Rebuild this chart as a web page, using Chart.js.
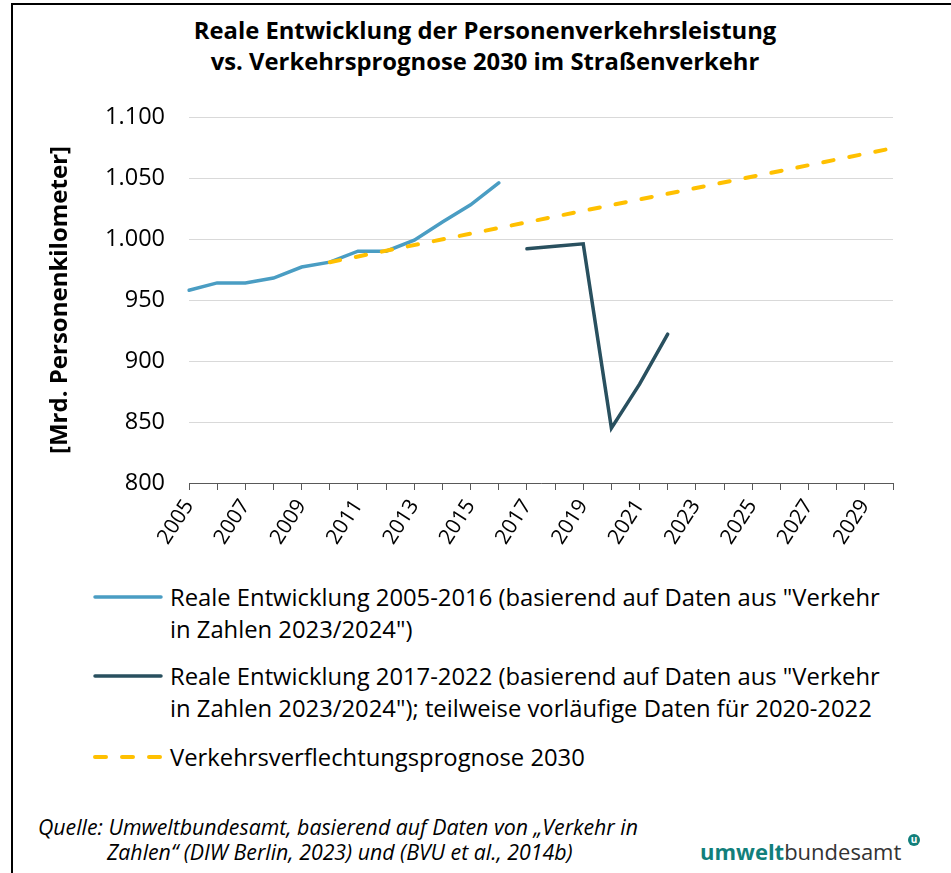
<!DOCTYPE html>
<html><head><meta charset="utf-8">
<script src="https://cdn.jsdelivr.net/npm/chart.js@4.4.1/dist/chart.umd.min.js"></script>
<style>
html,body{margin:0;padding:0;background:#fff;width:951px;height:873px;overflow:hidden;font-family:"Open Sans",sans-serif;color:#000}
#frame{position:absolute;left:11px;top:3px;width:980px;height:900px;border-left:2px solid #000;border-top:2px solid #000;box-sizing:border-box}
#title{position:absolute;left:135px;width:700px;top:15px;text-align:center;font-weight:bold;font-size:23.8px;line-height:31px;white-space:nowrap}
#c{position:absolute;left:0;top:0}
.leg{position:absolute;left:170px;font-size:23.8px;line-height:32px;white-space:nowrap;color:#000}
.sw{position:absolute;left:90px;width:76px;height:10px}
.src{position:absolute;font-style:italic;font-size:21.3px;line-height:25px;white-space:nowrap;color:#000}
#logo{position:absolute;left:700px;top:837px;font-size:22px;line-height:28px;white-space:nowrap;color:#333}
#logo b{color:#127f7b;font-weight:bold}
#logo .u{position:absolute;left:208px;top:-3px;width:12px;height:12px;border-radius:50%;background:#127f7b;color:#fff;font-size:10px;line-height:11px;text-align:center;font-weight:bold}
</style></head>
<body>
<div id="frame"></div>
<div id="title">Reale Entwicklung der Personenverkehrsleistung<br>vs. Verkehrsprognose 2030 im Straßenverkehr</div>
<canvas id="c" width="951" height="575"></canvas>

<svg class="sw" style="top:592px" viewBox="0 0 76 10"><line x1="5" y1="5" x2="71" y2="5" stroke="#4A9DC3" stroke-width="3.5" stroke-linecap="round"/></svg>
<div class="leg" style="top:581px">Reale Entwicklung 2005-2016 (basierend auf Daten aus "Verkehr<br>in Zahlen 2023/2024")</div>
<svg class="sw" style="top:671px" viewBox="0 0 76 10"><line x1="5" y1="5" x2="71" y2="5" stroke="#29505F" stroke-width="3.5" stroke-linecap="round"/></svg>
<div class="leg" style="top:660px">Reale Entwicklung 2017-2022 (basierend auf Daten aus "Verkehr<br>in Zahlen 2023/2024"); teilweise vorläufige Daten für 2020-2022</div>
<svg class="sw" style="top:752px" viewBox="0 0 76 10"><line x1="5" y1="5" x2="71" y2="5" stroke="#FFC000" stroke-width="4" stroke-linecap="round" stroke-dasharray="11 16"/></svg>
<div class="leg" style="top:741px">Verkehrsverflechtungsprognose 2030</div>

<div class="src" style="left:38px;top:814px">Quelle: Umweltbundesamt, basierend auf Daten von „Verkehr in</div>
<div class="src" style="left:107px;top:839px">Zahlen“ (DIW Berlin, 2023) und (BVU et al., 2014b)</div>
<div id="logo"><b>umwelt</b>bundesamt<span class="u">u</span></div>

<script>
const years = ['2005','2006','2007','2008','2009','2010','2011','2012','2013','2014','2015','2016','2017',
  '2018','2019','2020','2021','2022','2023','2024','2025','2026','2027','2028','2029','2030'];
const labeledYears = ['2005','2007','2009','2011','2013','2015','2017','2019','2021','2023','2025','2027','2029'];
const realOld = [958,964,964,968,977,981,990,990,999,1014,1028,1046,
  null,null,null,null,null,null,null,null,null,null,null,null,null,null];
const realNew = [null,null,null,null,null,null,null,null,null,null,null,null,
  992,994,996,845,881,922,null,null,null,null,null,null,null,null];
const prognose = [null,null,null,null,null,981,null,null,null,null,null,null,null,
  null,null,null,null,null,null,null,null,null,null,null,null,1074.5];
const yTicks = [800,850,900,950,1000,1050,1100];

function fmt(v){ return v>=1000 ? Math.floor(v/1000)+'.'+String(v%1000).padStart(3,'0') : String(v); }

new Chart(document.getElementById('c'), {
  type:'line',
  data:{labels:years, datasets:[
    {label:'Verkehrsverflechtungsprognose 2030', data:prognose, borderColor:'#FFC000', borderWidth:4,
     borderDash:[10.5,16], borderCapStyle:'round', spanGaps:true, pointRadius:0, tension:0},
    {label:'Reale Entwicklung 2005-2016', data:realOld, borderColor:'#4A9DC3', borderWidth:3.5,
     borderCapStyle:'round', pointRadius:0, tension:0},
    {label:'Reale Entwicklung 2017-2022', data:realNew, borderColor:'#29505F', borderWidth:3.5,
     borderCapStyle:'round', pointRadius:0, tension:0}
  ]},
  options:{
    responsive:false, animation:false, devicePixelRatio:1,
    layout:{padding:{top:117,right:58,left:0,bottom:0}},
    plugins:{legend:{display:false}, title:{display:false}, tooltip:{enabled:false}},
    scales:{
      x:{
        offset:false,
        grid:{drawOnChartArea:false, drawTicks:true, tickLength:7, color:'#595959', lineWidth:1},
        border:{display:true, color:'#595959', width:1},
        ticks:{autoSkip:false, minRotation:57, maxRotation:57, padding:5, color:'#000',
          font:{family:'"Open Sans"', size:21},
          callback:function(v,i){ const y=years[i]; return labeledYears.includes(y)?y:''; }},
        afterFit:function(s){ s.height = 92; }
      },
      y:{
        min:800, max:1100,
        afterBuildTicks:function(s){ s.ticks = yTicks.map(v=>({value:v})); },
        grid:{color:'#d9d9d9', drawTicks:false, lineWidth:1},
        border:{display:false},
        ticks:{padding:24, color:'#000', font:{family:'"Open Sans"', size:23.5}, callback:fmt},
        title:{display:true, text:'[Mrd. Personenkilometer]', color:'#000',
          font:{family:'"Open Sans"', size:24, weight:'bold'}, padding:{top:46, bottom:0}},
        afterFit:function(s){ s.width = 189; }
      }
    }
  }
});
</script>
</body></html>
